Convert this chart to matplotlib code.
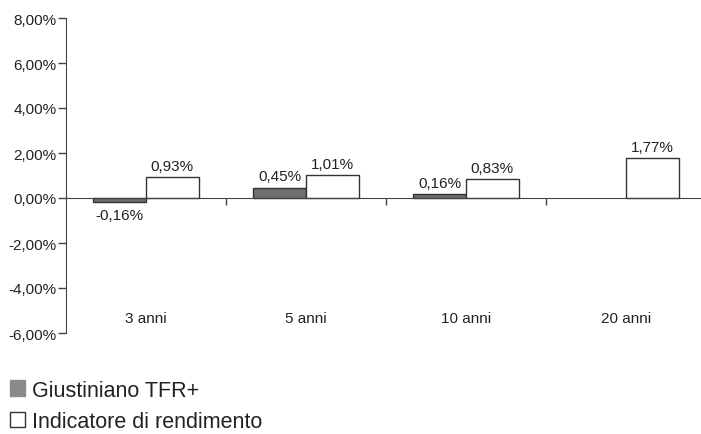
import matplotlib
matplotlib.use("Agg")
import matplotlib.pyplot as plt
from matplotlib.patches import Patch
import numpy as np

plt.rcParams['font.family'] = ['Liberation Sans', 'DejaVu Sans']

categories = ["3 anni", "5 anni", "10 anni", "20 anni"]
fondo = [-0.16, 0.45, 0.16, None]
indicatore = [0.93, 1.01, 0.83, 1.77]
yticks = [-6, -4, -2, 0, 2, 4, 6, 8]


def fmt(v):
    return ("%.2f%%" % v).replace(".", ",")


fig = plt.figure(figsize=(7.01, 4.35), dpi=100)
ax = fig.add_axes([66 / 701, 101 / 435, 640 / 701, 315 / 435])

x = np.arange(len(categories)) + 0.5
w = 0.33
dark = "#6f6f6f"
edge = "#333333"
fs = 11

for i, (a, b) in enumerate(zip(fondo, indicatore)):
    if a is not None:
        ax.bar(x[i] - w / 2, a, w, color=dark, edgecolor=edge, linewidth=1)
        off = 0.2 if a >= 0 else -0.3
        ax.text(x[i] - w / 2, a + off, fmt(a), ha="center",
                va="bottom" if a >= 0 else "top", fontsize=fs, color="#222222")
    ax.bar(x[i] + w / 2, b, w, color="white", edgecolor=edge, linewidth=1)
    ax.text(x[i] + w / 2, b + 0.2, fmt(b), ha="center", va="bottom",
            fontsize=fs, color="#222222")
    ax.text(x[i], -5.35, categories[i], ha="center", va="center",
            fontsize=fs, color="#222222")

ax.set_xlim(0, 4)
ax.set_ylim(-6, 8)
ax.set_yticks(yticks)
ax.set_yticklabels([fmt(v) for v in yticks], fontsize=fs, color="#222222")
ax.set_xticks([1, 2, 3])
ax.set_xticklabels([])

for s in ["top", "right"]:
    ax.spines[s].set_visible(False)
ax.spines["bottom"].set_position(("data", 0))
ax.spines["left"].set_color("#444444")
ax.spines["bottom"].set_color("#444444")
ax.tick_params(axis="y", direction="out", length=6, width=1, color="#444444", pad=1)
ax.tick_params(axis="x", direction="out", length=5, width=1, color="#444444")

handles = [Patch(facecolor="#8a8a8a", edgecolor="#8a8a8a"),
           Patch(facecolor="white", edgecolor="#333333")]
fig.legend(handles, ["Giustiniano TFR+", "Indicatore di rendimento"],
           loc="upper left", bbox_to_anchor=(0.002, 0.145), frameon=False,
           fontsize=15.5, handlelength=0.7, handleheight=0.7,
           handletextpad=0.3, labelspacing=0.5, borderaxespad=0.0,
           labelcolor="#222222")

fig.savefig("out.png", dpi=100)
